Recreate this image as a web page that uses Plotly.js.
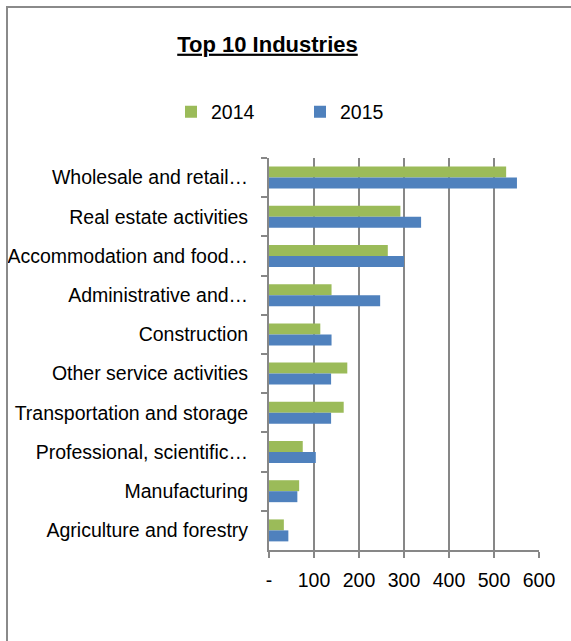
<!DOCTYPE html>
<html>
<head>
<meta charset="utf-8">
<script src="https://cdn.plot.ly/plotly-3.0.1.min.js"></script>
<style>
  html, body { margin: 0; padding: 0; background: #fff; overflow: hidden; }
  #wrap { position: relative; width: 571px; height: 641px; }
  #chart { position: absolute; left: 0; top: 0; width: 571px; height: 641px; }
  #frame { position: absolute; left: 6px; top: 6px; width: 620px; height: 700px;
           border: 2px solid #8a8a8a; pointer-events: none; box-sizing: border-box; }
</style>
</head>
<body>
<div id="wrap">
  <div id="chart"></div>
  <div id="frame"></div>
</div>
<script>
const categories = [
  "Wholesale and retail…",
  "Real estate activities",
  "Accommodation and food…",
  "Administrative and…",
  "Construction",
  "Other service activities",
  "Transportation and storage",
  "Professional, scientific…",
  "Manufacturing",
  "Agriculture and forestry"
];
const values2014 = [527, 292, 264, 139, 114, 174, 166, 75, 67, 33];
const values2015 = [551, 338, 300, 247, 139, 138, 138, 104, 63, 43];
const xTickVals = [0, 100, 200, 300, 400, 500, 600];
const xTickText = ["-", "100", "200", "300", "400", "500", "600"];

const FONT = "'Liberation Sans', Arial, sans-serif";
const GRAY = "#878787";

const traces = [
  { type: "bar", orientation: "h", name: "2014", y: categories, x: values2014,
    marker: { color: "#9BBB59" } },
  { type: "bar", orientation: "h", name: "2015", y: categories, x: values2015,
    marker: { color: "#4F81BD" } }
];

const layout = {
  width: 571, height: 641,
  margin: { l: 269, r: 32, t: 158, b: 91 },
  paper_bgcolor: "#ffffff", plot_bgcolor: "#ffffff",
  font: { family: FONT, size: 19.5, color: "#000000" },
  title: {
    text: "<b><u>Top 10 Industries</u></b>",
    font: { family: FONT, size: 22, color: "#000000" },
    xref: "container", x: 267.5 / 571, xanchor: "center",
    yref: "container", y: 1 - 44 / 641, yanchor: "middle"
  },
  showlegend: true,
  legend: {
    orientation: "h",
    xref: "container", x: 171 / 571, xanchor: "left",
    yref: "container", y: 1 - 112 / 641, yanchor: "middle",
    font: { family: FONT, size: 19.5, color: "#000000" },
    entrywidth: 84,
    bgcolor: "rgba(0,0,0,0)"
  },
  barmode: "group",
  bargap: 0.44,
  bargroupgap: 0,
  xaxis: {
    range: [0, 600],
    tickvals: xTickVals, ticktext: xTickText,
    showgrid: true, gridcolor: GRAY, gridwidth: 1.7,
    zeroline: false,
    showline: true, linecolor: GRAY, linewidth: 2,
    ticks: "outside", ticklen: 6, tickwidth: 2, tickcolor: GRAY,
    ticklabelstandoff: 6,
    tickfont: { family: FONT, size: 19.5, color: "#000000" },
    fixedrange: true
  },
  yaxis: {
    type: "category",
    autorange: "reversed",
    showgrid: false, zeroline: false,
    showline: true, linecolor: GRAY, linewidth: 2,
    ticks: "outside", tickson: "boundaries", ticklen: 6, tickwidth: 2, tickcolor: GRAY,
    ticklabelstandoff: 15,
    tickfont: { family: FONT, size: 19.5, color: "#000000" },
    fixedrange: true
  }
};

Plotly.newPlot("chart", traces, layout, { displayModeBar: false, staticPlot: true });
</script>
</body>
</html>
